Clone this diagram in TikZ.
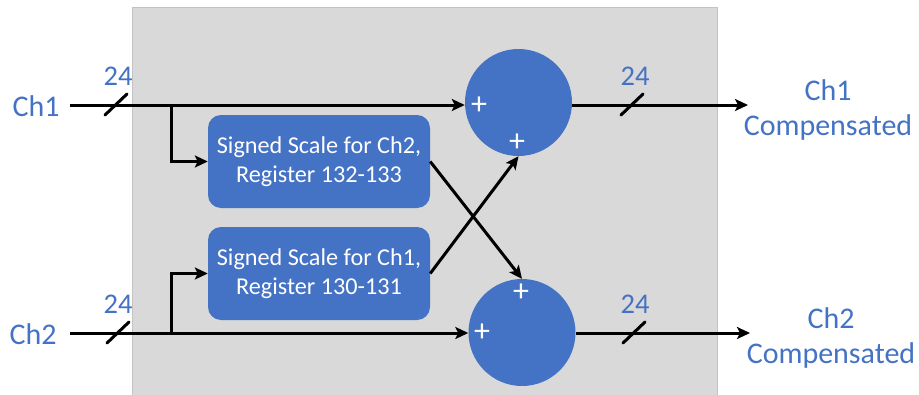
\documentclass[tikz,border=0pt]{standalone}
\usepackage{fontspec}
\setmainfont{Carlito}
\usetikzlibrary{arrows.meta,calc}
\definecolor{blu}{HTML}{4472C4}
\definecolor{bg}{HTML}{D9D9D9}
\tikzset{
  wire/.style={line width=3pt, black},
  arr/.style={wire, -{Stealth[length=13pt,width=12pt,inset=3pt]}},
  scalebox/.style={fill=blu, rounded corners=13pt, minimum width=222pt, minimum height=93pt, align=center, text=white, font=\fontsize{24.2}{29}\selectfont, inner sep=0pt},
  summer/.style={circle, fill=blu, minimum size=107pt, inner sep=0pt},
  lbl/.style={text=blu, font=\fontsize{30}{35}\selectfont, align=center, inner sep=0pt},
  wlbl/.style={text=blu, font=\fontsize{28.5}{34}\selectfont, inner sep=0pt},
  plus/.style={text=white, font=\fontsize{32}{32}\selectfont, inner sep=0pt},
  slash/.style={line width=3pt, black, line cap=round}
}
\begin{document}
\begin{tikzpicture}[x=1pt,y=-1pt]
\useasboundingbox (0,0) rectangle (919,394);
\fill[bg, draw=bg!90!black, line width=0.6pt] (132,7) rectangle (717,396);
% nodes
\node[lbl] (ch1) at (36,106) {Ch1};
\node[lbl] (ch2) at (33,334) {Ch2};
\coordinate (s1) at (70,105);
\coordinate (s2) at (70,333);
\node[scalebox] (b1) at (319,161.5) {Signed Scale for Ch2,\\Register 132-133};
\node[scalebox] (b2) at (319,273.5) {Signed Scale for Ch1,\\Register 130-131};
\node[summer] (c1) at (518.5,102.5) {};
\node[summer] (c2) at (522,332.5) {};
\node[plus] (p1) at (479,106) {+};
\node[plus] (p2) at (517,143) {+};
\node[plus] (p3) at (521,293) {+};
\node[plus] (p4) at (482,333) {+};
\coordinate (j1) at (171,105);
\coordinate (j2) at (171,333);
\coordinate (o1) at (748,105);
\coordinate (o2) at (750,333);
\node[lbl] (out1) at (828,110) {Ch1\\Compensated};
\node[lbl] (out2) at (831,338) {Ch2\\Compensated};
\node[wlbl] (w1) at (118,76) {24};
\node[wlbl] (w2) at (118,304) {24};
\node[wlbl] (w3) at (635,76) {24};
\node[wlbl] (w4) at (635,304) {24};
% wires
\draw[arr] (s1) -- (c1.west |- s1);
\draw[arr] (s2) -- (c2.west |- s2);
\draw[arr] (j1) |- (b1.west);
\draw[arr] (j2) |- (b2.west);
\draw[arr] (b1.east) -- (c2.north);
\draw[arr] (b2.east) -- (c1.south);
\draw[arr] (c1.east |- o1) -- (o1);
\draw[arr] (c2.east |- o2) -- (o2);
% width slashes
\draw[slash] (105,115) -- (127,94);
\draw[slash] (107,343) -- (129,322);
\draw[slash] (621,115) -- (643,94);
\draw[slash] (623,343) -- (645,322);
\end{tikzpicture}
\end{document}
